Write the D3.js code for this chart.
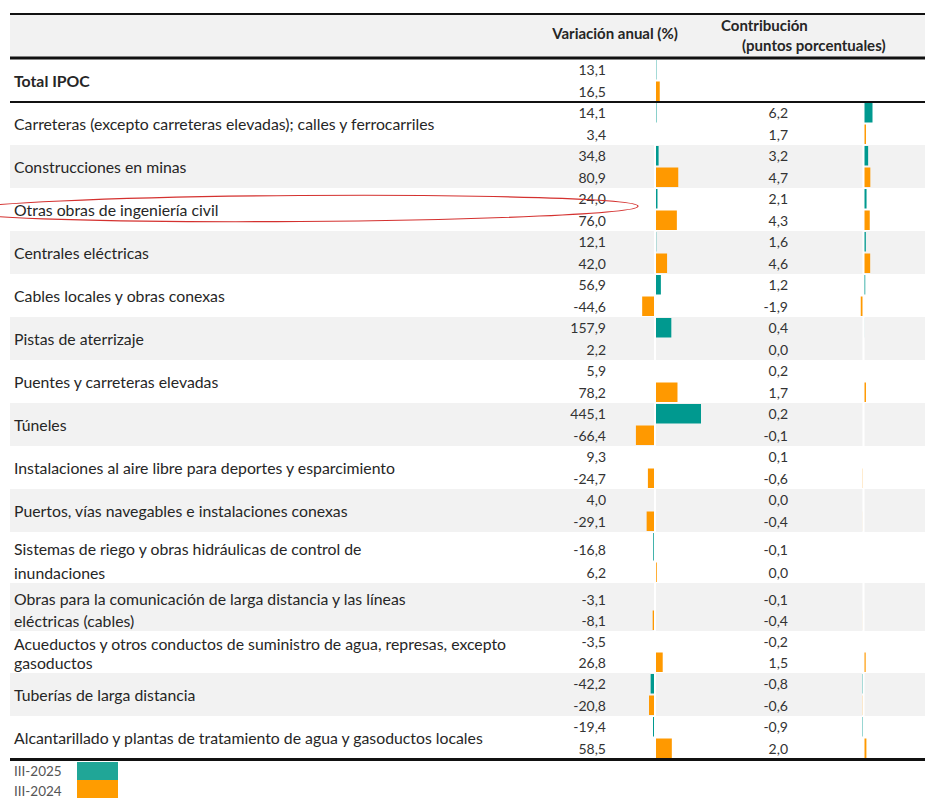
<!DOCTYPE html>
<html>
<head>
<meta charset="utf-8">
<script src="https://cdn.jsdelivr.net/npm/d3@7"></script>
<style>
    body { margin: 0; background: #fff; }
    text { font-family: Lato, "Open Sans", sans-serif; }
</style>
</head>
<body>
<div id="chart"></div>
<script>
"use strict";

var categories = [
    "Total IPOC",
    "Carreteras (excepto carreteras elevadas); calles y ferrocarriles",
    "Construcciones en minas",
    "Otras obras de ingeniería civil",
    "Centrales eléctricas",
    "Cables locales y obras conexas",
    "Pistas de aterrizaje",
    "Puentes y carreteras elevadas",
    "Túneles",
    "Instalaciones al aire libre para deportes y esparcimiento",
    "Puertos, vías navegables e instalaciones conexas",
    "Sistemas de riego y obras hidráulicas de control de\ninundaciones",
    "Obras para la comunicación de larga distancia y las líneas\neléctricas (cables)",
    "Acueductos y otros conductos de suministro de agua, represas, excepto\ngasoductos",
    "Tuberías de larga distancia",
    "Alcantarillado y plantas de tratamiento de agua y gasoductos locales"
];

var variacion2025 = [13.1, 14.1, 34.8, 24.0, 12.1, 56.9, 157.9, 5.9, 445.1, 9.3, 4.0, -16.8, -3.1, -3.5, -42.2, -19.4];
var variacion2024 = [16.5, 3.4, 80.9, 76.0, 42.0, -44.6, 2.2, 78.2, -66.4, -24.7, -29.1, 6.2, -8.1, 26.8, -20.8, 58.5];

// contribution is not given for the total
var contribucion2025 = [null, 6.2, 3.2, 2.1, 1.6, 1.2, 0.4, 0.2, 0.2, 0.1, 0.0, -0.1, -0.1, -0.2, -0.8, -0.9];
var contribucion2024 = [null, 1.7, 4.7, 4.3, 4.6, -1.9, 0.0, 1.7, -0.1, -0.6, -0.4, 0.0, -0.4, 1.5, -0.6, 2.0];

var seriesNames = ["III-2025", "III-2024"];
var headers = ["Variación anual (%)", "Contribución", "(puntos porcentuales)"];

// ------------------------- layout
var width = 925,
    height = 798;
var left = 10, right = 925;
var tableTop = 59, subH = 21.5, baseRowH = 43;
var rowExtra = { 11: 8, 12: 5, 13: -1 }; //wrapped rows are a little taller
var teal = "#00998f", orange = "#ff9900";
var legendTeal = "#20a697", legendOrange = "#ff9c00";
var labelSize = 15.8, valueSize = 14, headSize = 15;

var esLocale = d3.formatLocale({ decimal: ",", thousands: ".", grouping: [3], currency: ["", "€"], minus: "-" });
var fmt = esLocale.format(".1f");

var svg = d3.select("#chart").append("svg")
    .attr("width", width)
    .attr("height", height);

// build the rows (top half = III-2025, bottom half = III-2024)
var rows = [];
var yCursor = tableTop;
categories.forEach(function(label, i){
    var h = baseRowH + (rowExtra[i] || 0);
    rows.push({
        i: i,
        label: label,
        lines: label.split("\n"),
        y0: yCursor,
        h: h,
        ySplit: yCursor + h - subH,
        y1: yCursor + h,
        v25: variacion2025[i],
        v24: variacion2024[i],
        c25: contribucion2025[i],
        c24: contribucion2024[i]
    });
    yCursor += h;
});
var tableBottom = yCursor;

// scales: data bars, each series has its own length per point (as in the source sheet)
var zeroVar = 655, zeroCon = 863.5;
var xVar25 = d3.scaleLinear().domain([0, 445.1]).range([zeroVar, zeroVar + 46]);
var xVar24 = d3.scaleLinear().domain([0, 160]).range([zeroVar, zeroVar + 46]);
var xCon = d3.scaleLinear().domain([0, 6.2]).range([zeroCon, zeroCon + 9]);

// ------------------------- header + row backgrounds
svg.append("rect")
    .attr("x", left).attr("y", 15)
    .attr("width", right - left).attr("height", 42)
    .attr("fill", "#f2f2f2");

svg.append("g")
    .selectAll("rect")
    .data(rows.filter(function(d){ return d.i > 0 && d.i % 2 == 0; }))
    .enter().append("rect")
        .attr("x", left)
        .attr("y", function(d){ return d.y0; })
        .attr("width", right - left)
        .attr("height", function(d){ return d.h; })
        .attr("fill", "#f2f2f2");

// ------------------------- bars
function topHalf(d){ return d.y0; }
function bottomHalf(d){ return d.ySplit; }

function barRect(g, data, scale, top, valueKey, color) {
    g.selectAll("rect." + valueKey)
        .data(data.filter(function(d){ return d[valueKey] != null; }))
        .enter().append("rect")
            .attr("class", valueKey)
            .attr("x", function(d){ return Math.min(scale(0), scale(d[valueKey])); })
            .attr("width", function(d){ return Math.abs(scale(d[valueKey]) - scale(0)); })
            .attr("y", function(d){ return top(d) + 1; })
            .attr("height", function(d){ return (top == topHalf ? d.ySplit - d.y0 : d.y1 - d.ySplit) - 2; })
            .attr("fill", color);
}

var bars = svg.append("g").attr("class", "bars");
barRect(bars, rows, xVar25, topHalf, "v25", teal);
barRect(bars, rows, xVar24, bottomHalf, "v24", orange);
barRect(bars, rows, xCon, topHalf, "c25", teal);
barRect(bars, rows, xCon, bottomHalf, "c24", orange);

// white zero axes of the data bars
[zeroVar, zeroCon].forEach(function(x0){
    svg.append("line")
        .attr("x1", x0).attr("x2", x0)
        .attr("y1", tableTop).attr("y2", tableBottom)
        .attr("stroke", "#fff")
        .attr("stroke-width", 2);
});

// ------------------------- texts
var labels = svg.append("g").attr("class", "labels");
rows.forEach(function(d){
    var t = labels.append("text")
        .attr("x", 14)
        .attr("fill", "#262626")
        .attr("font-size", labelSize)
        .attr("font-weight", d.i == 0 ? "bold" : "normal")
        .attr("dominant-baseline", "central");
    if (d.lines.length == 1) {
        t.attr("y", d.y0 + d.h / 2).text(d.lines[0]);
    } else {
        t.attr("y", (d.y0 + d.ySplit) / 2 + 2).text(d.lines[0]);
        labels.append("text")
            .attr("x", 14)
            .attr("y", (d.ySplit + d.y1) / 2)
            .attr("fill", "#262626")
            .attr("font-size", labelSize)
            .attr("dominant-baseline", "central")
            .text(d.lines[1]);
    }
});

function valueTexts(key, xRight, top) {
    svg.append("g")
        .selectAll("text")
        .data(rows.filter(function(d){ return d[key] != null; }))
        .enter().append("text")
            .attr("x", xRight)
            .attr("y", function(d){
                return top ? (d.y0 + d.ySplit) / 2 + (d.ySplit - d.y0 > 24 ? 3 : 0) : (d.ySplit + d.y1) / 2;
            })
            .attr("text-anchor", "end")
            .attr("dominant-baseline", "central")
            .attr("font-size", valueSize)
            .attr("fill", "#333")
            .text(function(d){ return fmt(d[key]); });
}
valueTexts("v25", 606, true);
valueTexts("v24", 606, false);
valueTexts("c25", 788, true);
valueTexts("c24", 788, false);

// header titles
svg.append("text")
    .attr("x", 615).attr("y", 33)
    .attr("text-anchor", "middle")
    .attr("dominant-baseline", "central")
    .attr("font-size", headSize).attr("font-weight", "bold").attr("fill", "#262626")
    .text(headers[0]);
svg.append("text")
    .attr("x", 721).attr("y", 25)
    .attr("dominant-baseline", "central")
    .attr("font-size", headSize).attr("font-weight", "bold").attr("fill", "#262626")
    .text(headers[1]);
svg.append("text")
    .attr("x", 742).attr("y", 45)
    .attr("dominant-baseline", "central")
    .attr("font-size", headSize).attr("font-weight", "bold").attr("fill", "#262626")
    .text(headers[2]);

// ------------------------- rules
[[14, 2], [58, 3], [102, 2], [tableBottom + 0.5, 3]].forEach(function(r){
    svg.append("line")
        .attr("x1", left).attr("x2", right)
        .attr("y1", r[0]).attr("y2", r[0])
        .attr("stroke", "#111")
        .attr("stroke-width", r[1]);
});

// ------------------------- legend
var legend = svg.append("g").attr("class", "legend");
legend.selectAll("rect")
    .data(seriesNames)
    .enter().append("rect")
        .attr("x", 77)
        .attr("y", function(d, i){ return 762 + i * 18; })
        .attr("width", 41)
        .attr("height", 18)
        .attr("fill", function(d, i){ return i == 0 ? legendTeal : legendOrange; });
legend.selectAll("text")
    .data(seriesNames)
    .enter().append("text")
        .attr("x", 14)
        .attr("y", function(d, i){ return 771 + i * 20; })
        .attr("dominant-baseline", "central")
        .attr("font-size", 13.5)
        .attr("fill", "#555")
        .text(function(d){ return d; });

// ------------------------- red hand-drawn highlight around "Otras obras..."
var hl = rows[3];
svg.append("ellipse")
    .attr("cx", 300)
    .attr("cy", hl.y0 + hl.h / 2 - 1)
    .attr("rx", 338)
    .attr("ry", 13)
    .attr("transform", "rotate(-0.4 300 " + (hl.y0 + hl.h / 2) + ")")
    .attr("fill", "none")
    .attr("stroke", "#d4312f")
    .attr("stroke-width", 1.2);
</script>
</body>
</html>
